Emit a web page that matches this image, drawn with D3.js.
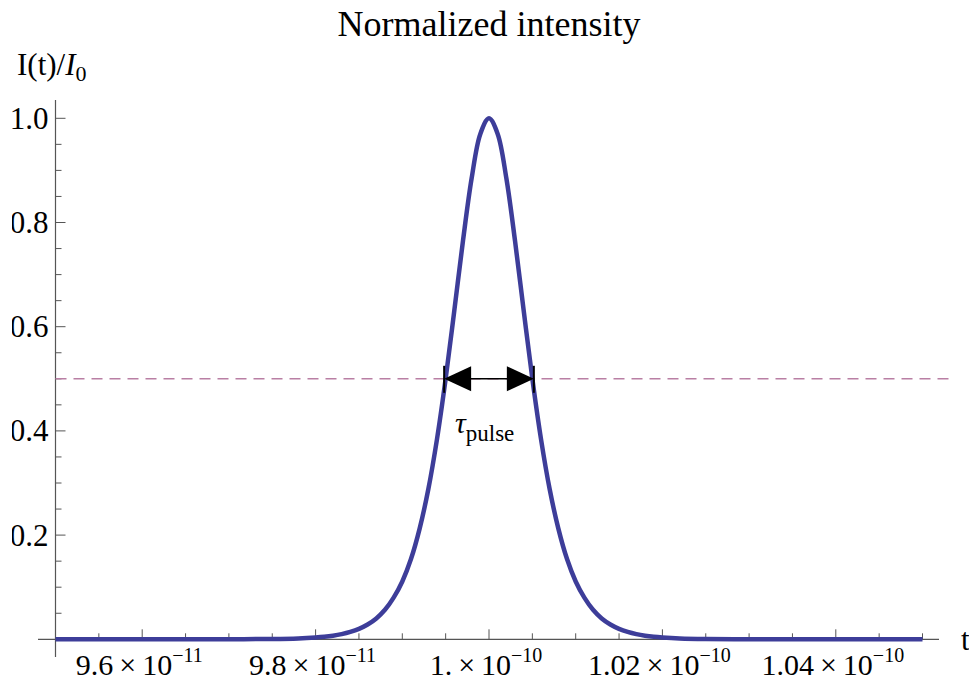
<!DOCTYPE html>
<html>
<head>
<meta charset="utf-8">
<script src="https://cdn.jsdelivr.net/npm/d3@7"></script>
<style>
  html, body { margin: 0; padding: 0; background: #fff; }
  svg text, svg tspan { font-family: "Liberation Serif", "Times New Roman", serif; fill: #000; }
</style>
</head>
<body>
<div id="chart"></div>
<script>
// pulse samples: time (s) and normalized intensity
const times = [
  9.5e-11, 9.6e-11, 9.65e-11, 9.7e-11, 9.75e-11, 9.78e-11, 9.8e-11, 9.81e-11, 9.82e-11, 9.83e-11,
  9.84e-11, 9.85e-11, 9.86e-11, 9.87e-11, 9.88e-11, 9.89e-11, 9.9e-11, 9.91e-11, 9.92e-11, 9.93e-11,
  9.94e-11, 9.95e-11, 9.96e-11, 9.97e-11, 9.98e-11, 9.99e-11, 1.0e-10, 1.001e-10, 1.002e-10, 1.003e-10,
  1.004e-10, 1.005e-10, 1.006e-10, 1.007e-10, 1.008e-10, 1.009e-10, 1.01e-10, 1.011e-10, 1.012e-10, 1.013e-10,
  1.014e-10, 1.015e-10, 1.016e-10, 1.017e-10, 1.018e-10, 1.019e-10, 1.02e-10, 1.022e-10, 1.025e-10, 1.03e-10,
  1.035e-10, 1.04e-10, 1.05e-10
];
const intensity = [
  0, 0.000003, 0.00002, 0.0001, 0.0006, 0.0017, 0.0035, 0.0049, 0.007, 0.01,
  0.0142, 0.02, 0.0283, 0.04, 0.0566, 0.0799, 0.111, 0.154, 0.2125, 0.288,
  0.384, 0.5, 0.631, 0.765, 0.885, 0.97, 1.0, 0.97, 0.885, 0.765,
  0.631, 0.5, 0.384, 0.288, 0.2125, 0.154, 0.111, 0.0799, 0.0566, 0.04,
  0.0283, 0.02, 0.0142, 0.01, 0.007, 0.0049, 0.0035, 0.0017, 0.0006, 0.0001,
  0.00002, 0.000003, 0
];

const halfLevel = 0.5;
const halfPoints = [9.95e-11, 1.005e-10]; // FWHM edges

const xMajor = [9.6e-11, 9.8e-11, 1.0e-10, 1.02e-10, 1.04e-10];
const xMantissa = ["9.6", "9.8", "1.", "1.02", "1.04"];
const xExponent = ["\u221211", "\u221211", "\u221210", "\u221210", "\u221210"];
const yMajor = [0.2, 0.4, 0.6, 0.8, 1.0];
const yLabels = ["0.2", "0.4", "0.6", "0.8", "1.0"];

const W = 969, H = 682;
const serif = "'Liberation Serif', 'Times New Roman', serif";
const axisColor = "#555";
const lineColor = "#3d3d99";
const dashColor = "#b97fa4";

const svg = d3.select("#chart").append("svg")
  .attr("width", W).attr("height", H)
  .attr("viewBox", `0 0 ${W} ${H}`)
  .attr("font-family", serif);

const x = d3.scaleLinear().domain([9.5e-11, 1.05e-10]).range([55.5, 922.5]);
const y = d3.scaleLinear().domain([0, 1]).range([639.3, 118.3]);

// clip for y labels (left edge of plot image)
svg.append("clipPath").attr("id", "lblclip")
  .append("rect").attr("x", 12).attr("y", 0).attr("width", W).attr("height", H);

// axes lines
const x0 = x.range()[0];
svg.append("line")
  .attr("x1", 38).attr("x2", 939)
  .attr("y1", y(0)).attr("y2", y(0))
  .attr("stroke", axisColor).attr("stroke-width", 1.2);
svg.append("line")
  .attr("x1", x0).attr("x2", x0)
  .attr("y1", 100).attr("y2", 657)
  .attr("stroke", axisColor).attr("stroke-width", 1.2);

// x ticks
const xMinor = d3.range(0, 21).map(i => 9.5e-11 + i * 0.5e-12)
  .filter(v => !xMajor.some(m => Math.abs(m - v) < 1e-14));
svg.append("g").selectAll("line").data(xMinor).join("line")
  .attr("x1", d => x(d)).attr("x2", d => x(d))
  .attr("y1", y(0)).attr("y2", y(0) - 6)
  .attr("stroke", axisColor).attr("stroke-width", 1);
svg.append("g").selectAll("line").data(xMajor).join("line")
  .attr("x1", d => x(d)).attr("x2", d => x(d))
  .attr("y1", y(0)).attr("y2", y(0) - 10)
  .attr("stroke", axisColor).attr("stroke-width", 1);

// x tick labels with superscripts
const xl = svg.append("g").selectAll("text").data(xMajor).join("text")
  .attr("x", d => x(d) - 3)
  .attr("y", 675)
  .attr("text-anchor", "middle")
  .attr("font-family", serif)
  .attr("font-size", 30);
xl.append("tspan").text((d, i) => xMantissa[i]);
xl.append("tspan").attr("dx", 6).text("\u00d7");
xl.append("tspan").attr("dx", 6).text("10");
xl.append("tspan").attr("dy", -13).attr("font-size", 20).text((d, i) => xExponent[i]);

// y ticks
const yMinor = d3.range(1, 21).map(i => i * 0.05)
  .filter(v => !yMajor.some(m => Math.abs(m - v) < 1e-9));
svg.append("g").selectAll("line").data(yMinor).join("line")
  .attr("x1", x0).attr("x2", x0 + 6)
  .attr("y1", d => y(d)).attr("y2", d => y(d))
  .attr("stroke", axisColor).attr("stroke-width", 1);
svg.append("g").selectAll("line").data(yMajor).join("line")
  .attr("x1", x0).attr("x2", x0 + 10)
  .attr("y1", d => y(d)).attr("y2", d => y(d))
  .attr("stroke", axisColor).attr("stroke-width", 1);
svg.append("g").attr("clip-path", "url(#lblclip)")
  .selectAll("text").data(yMajor).join("text")
  .attr("x", 48.5)
  .attr("y", d => y(d) + 10.5)
  .attr("text-anchor", "end")
  .attr("font-family", serif)
  .attr("font-size", 31)
  .text((d, i) => yLabels[i]);

// half maximum dashed line
svg.append("line")
  .attr("x1", x0).attr("x2", 950)
  .attr("y1", y(halfLevel)).attr("y2", y(halfLevel))
  .attr("stroke", dashColor).attr("stroke-width", 1.5)
  .attr("stroke-dasharray", "11,7");

// pulse curve
const line = d3.line()
  .x((d, i) => x(times[i]))
  .y((d, i) => y(intensity[i]))
  .curve(d3.curveCatmullRom.alpha(0.5));
svg.append("path")
  .datum(times)
  .attr("d", line)
  .attr("fill", "none")
  .attr("stroke", lineColor)
  .attr("stroke-width", 4.5)
  .attr("stroke-linejoin", "round");

// FWHM arrow
const ay = y(halfLevel);
const ax1 = x(halfPoints[0]) - 1.5, ax2 = x(halfPoints[1]) + 1.5;
svg.append("line")
  .attr("x1", ax1 + 20).attr("x2", ax2 - 20)
  .attr("y1", ay).attr("y2", ay)
  .attr("stroke", "#000").attr("stroke-width", 1.5);
svg.append("path")
  .attr("d", `M${ax1},${ay} L${ax1 + 27},${ay - 12.5} L${ax1 + 27},${ay + 12.5} Z`)
  .attr("fill", "#000");
svg.append("path")
  .attr("d", `M${ax2},${ay} L${ax2 - 27},${ay - 12.5} L${ax2 - 27},${ay + 12.5} Z`)
  .attr("fill", "#000");
[ax1, ax2].forEach(px => {
  svg.append("line")
    .attr("x1", px).attr("x2", px)
    .attr("y1", ay - 13).attr("y2", ay + 14)
    .attr("stroke", "#000").attr("stroke-width", 2);
});

// tau label
const tl = svg.append("text")
  .attr("x", 455).attr("y", 433)
  .attr("font-family", serif)
  .attr("font-size", 30);
tl.append("tspan").attr("font-style", "italic").text("\u03c4");
tl.append("tspan").attr("dy", 8).attr("font-size", 23).text("pulse");

// title and axis labels
svg.append("text")
  .attr("x", 489).attr("y", 36)
  .attr("text-anchor", "middle")
  .attr("font-family", serif)
  .attr("font-size", 36)
  .text("Normalized intensity");

const yl = svg.append("text")
  .attr("x", 17).attr("y", 75)
  .attr("font-family", serif)
  .attr("font-size", 31);
yl.append("tspan").text("I(t)/");
yl.append("tspan").attr("font-style", "italic").text("I");
yl.append("tspan").attr("dy", 6).attr("font-size", 22).text("0");

svg.append("text")
  .attr("x", 961).attr("y", 650)
  .attr("font-family", serif)
  .attr("font-size", 31)
  .text("t");
</script>
</body>
</html>
